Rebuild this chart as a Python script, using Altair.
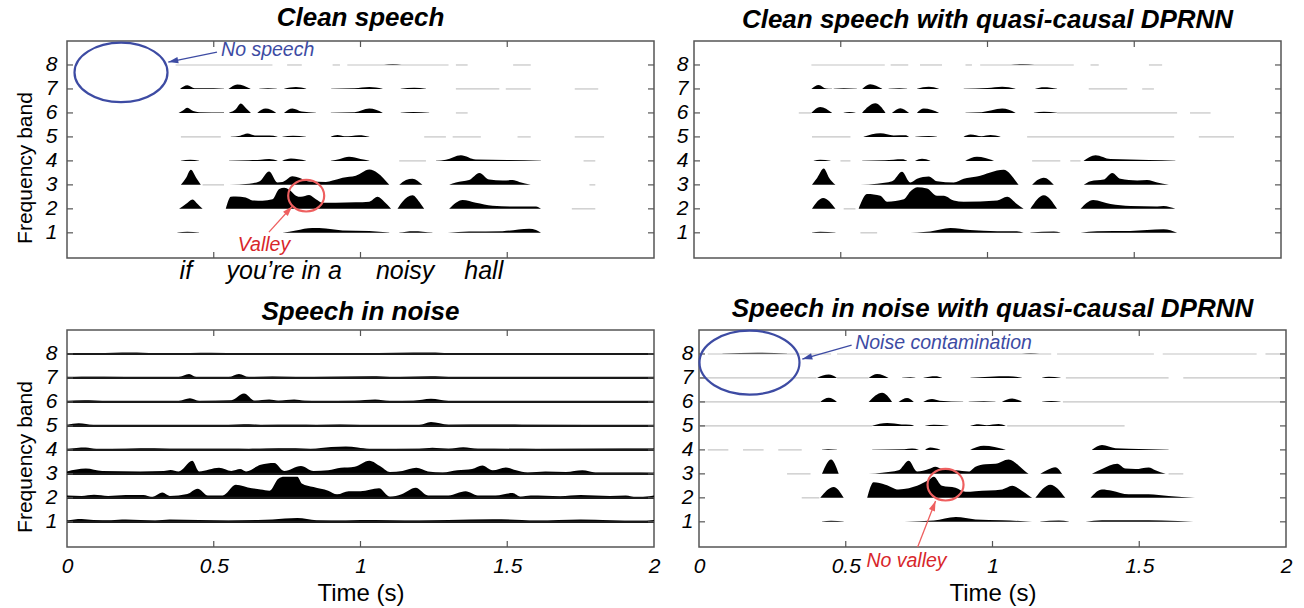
import math
import altair as alt
import pandas as pd

FONT = "Liberation Sans"
BANDS = [1, 2, 3, 4, 5, 6, 7, 8]
XTICKS = [0, 0.5, 1, 1.5, 2]
INNER_TICKS = [0.5, 1, 1.5]
TITLES = ["Clean speech", "Clean speech with quasi-causal DPRNN",
          "Speech in noise", "Speech in noise with quasi-causal DPRNN"]
WORDS = ["if", "you\u2019re in a", "noisy", "hall"]
WORD_T = [0.405, 0.74, 1.152, 1.42]

# ---------------- Clean speech (band -> list of segments of (time s, envelope height)) ----
CLEAN = {
    8: [[(1.08, 0.0), (1.11, 0.04), (1.14, 0.0)]],
    7: [[(0.385, 0), (0.41, 0.15), (0.435, 0.03), (0.50, 0.03), (0.535, 0.01)],
        [(0.55, 0), (0.58, 0.19), (0.625, 0.01)],
        [(0.655, 0.01), (0.685, 0.03), (0.715, 0.01)],
        [(0.74, 0.01), (0.78, 0.08), (0.815, 0.01)],
        [(0.90, 0.01), (0.98, 0.03), (1.03, 0.08), (1.075, 0.01)],
        [(1.137, 0.01), (1.183, 0.05), (1.223, 0.01)]],
    6: [[(0.38, 0), (0.395, 0.1), (0.41, 0.22), (0.43, 0.08), (0.45, 0.03), (0.535, 0.02)],
        [(0.552, 0.01), (0.575, 0.15), (0.592, 0.39), (0.61, 0.2), (0.626, 0.01)],
        [(0.649, 0.01), (0.677, 0.18), (0.712, 0.01)],
        [(0.74, 0.01), (0.768, 0.19), (0.80, 0.06), (0.848, 0.01)],
        [(0.899, 0.01), (0.98, 0.03), (1.03, 0.18), (1.075, 0.01)],
        [(1.137, 0.01), (1.18, 0.04), (1.234, 0.01)]],
    5: [[(0.558, 0.01), (0.59, 0.05), (0.615, 0.14), (0.64, 0.06), (0.69, 0.06), (0.717, 0.01)],
        [(0.734, 0.01), (0.77, 0.05), (0.814, 0.01)],
        [(0.899, 0.01), (0.922, 0.08), (0.945, 0.03), (0.97, 0.04), (0.995, 0.07), (1.03, 0.01)]],
    4: [[(0.388, 0.01), (0.42, 0.05), (0.45, 0.01)],
        [(0.552, 0.01), (0.62, 0.03), (0.66, 0.05), (0.689, 0.08), (0.717, 0.01)],
        [(0.734, 0.01), (0.763, 0.1), (0.814, 0.01)],
        [(0.899, 0.01), (0.93, 0.08), (0.961, 0.17), (1.0, 0.08), (1.03, 0.01)],
        [(1.257, 0.01), (1.291, 0.05), (1.342, 0.24), (1.393, 0.06), (1.50, 0.04), (1.615, 0.01)]],
    3: [[(0.388, 0), (0.406, 0.3), (0.422, 0.63), (0.44, 0.3), (0.456, 0)],
        [(0.552, 0), (0.621, 0.05), (0.655, 0.14), (0.689, 0.56), (0.717, 0.1), (0.734, 0.12),
         (0.768, 0.36), (0.791, 0.3), (0.825, 0.14), (0.882, 0.12), (0.905, 0.18), (0.939, 0.3),
         (0.984, 0.38), (1.03, 0.64), (1.058, 0.5), (1.098, 0)],
        [(1.132, 0), (1.155, 0.2), (1.177, 0.26), (1.211, 0)],
        [(1.302, 0), (1.325, 0.1), (1.37, 0.2), (1.405, 0.5), (1.439, 0.22), (1.484, 0.18),
         (1.518, 0.2), (1.541, 0.12), (1.58, 0)]],
    2: [[(0.382, 0), (0.405, 0.2), (0.428, 0.39), (0.445, 0.2), (0.462, 0)],
        [(0.541, 0), (0.558, 0.5), (0.575, 0.52), (0.609, 0.47), (0.632, 0.35), (0.666, 0.34),
         (0.70, 0.4), (0.723, 0.83), (0.74, 0.88), (0.757, 0.8), (0.78, 0.55), (0.797, 0.5),
         (0.825, 0.58), (0.848, 0.4), (0.871, 0.25), (0.916, 0.25), (0.984, 0.27), (1.03, 0.3),
         (1.058, 0.5), (1.081, 0.3), (1.104, 0)],
        [(1.126, 0), (1.143, 0.3), (1.177, 0.57), (1.20, 0.3), (1.217, 0)],
        [(1.302, 0), (1.348, 0.37), (1.393, 0.25), (1.45, 0.13), (1.518, 0.1), (1.598, 0.1), (1.615, 0)]],
    1: [[(0.376, 0.01), (0.41, 0.04), (0.45, 0.01)],
        [(0.734, 0), (0.78, 0.1), (0.836, 0.2), (0.882, 0.18), (0.939, 0.1), (1.03, 0.08), (1.098, 0.01)],
        [(1.132, 0.01), (1.18, 0.07), (1.245, 0.01)],
        [(1.297, 0), (1.37, 0.05), (1.484, 0.07), (1.575, 0.17), (1.598, 0.12), (1.615, 0)]],
}
CLEAN_FAINT = {
    8: [(0.37, 0.70), (0.75, 0.80), (0.905, 0.93), (0.955, 1.30), (1.325, 1.365), (1.52, 1.58)],
    7: [(1.325, 1.473), (1.495, 1.58), (1.73, 1.81)],
    6: [(1.325, 1.365)],
    5: [(0.388, 0.524), (1.217, 1.291), (1.314, 1.41), (1.535, 1.58), (1.73, 1.83)],
    4: [(1.132, 1.223), (1.76, 1.80)],
    3: [(0.462, 0.535), (1.78, 1.80)],
    2: [(1.72, 1.80)],
}

# ---------------- Clean speech with quasi-causal DPRNN ----------------
DP_CLEAN = {
    8: [[(1.08, 0.0), (1.12, 0.04), (1.16, 0.0)]],
    7: [[(0.40, 0), (0.425, 0.17), (0.45, 0.02), (0.47, 0.01)],
        [(0.476, 0.01), (0.51, 0.03), (0.555, 0.01)],
        [(0.573, 0), (0.60, 0.2), (0.641, 0.01)],
        [(0.663, 0.01), (0.70, 0.03), (0.726, 0.01)],
        [(0.76, 0.01), (0.80, 0.09), (0.834, 0.01)],
        [(0.919, 0.01), (1.0, 0.04), (1.05, 0.09), (1.095, 0.01)],
        [(1.163, 0.01), (1.192, 0.07), (1.237, 0.01)]],
    6: [[(0.40, 0.01), (0.43, 0.25), (0.47, 0.01)],
        [(0.51, 0.01), (0.53, 0.04), (0.55, 0.01)],
        [(0.573, 0.01), (0.618, 0.4), (0.652, 0.01)],
        [(0.675, 0.01), (0.703, 0.2), (0.732, 0.01)],
        [(0.76, 0.01), (0.783, 0.18), (0.834, 0.01)],
        [(0.925, 0.01), (0.98, 0.03), (1.05, 0.18), (1.095, 0.01)],
        [(1.158, 0.01), (1.192, 0.05), (1.237, 0.01)]],
    5: [[(0.578, 0.01), (0.635, 0.15), (0.68, 0.06), (0.72, 0.07), (0.732, 0.01)],
        [(0.754, 0.01), (0.80, 0.04), (0.828, 0.01)],
        [(0.919, 0.01), (0.942, 0.1), (0.98, 0.03), (1.01, 0.08), (1.044, 0.01)]],
    4: [[(0.408, 0.01), (0.43, 0.05), (0.465, 0.01)],
        [(0.573, 0.01), (0.65, 0.03), (0.709, 0.07), (0.726, 0.01)],
        [(0.754, 0.01), (0.777, 0.09), (0.805, 0.01)],
        [(0.925, 0.01), (0.964, 0.17), (1.021, 0.01)],
        [(1.328, 0.01), (1.368, 0.24), (1.419, 0.08), (1.55, 0.04), (1.64, 0.01)]],
    3: [[(0.402, 0), (0.42, 0.3), (0.442, 0.68), (0.46, 0.3), (0.482, 0)],
        [(0.567, 0), (0.624, 0.05), (0.675, 0.15), (0.709, 0.55), (0.737, 0.1), (0.76, 0.25),
         (0.80, 0.35), (0.828, 0.15), (0.885, 0.1), (0.919, 0.25), (0.964, 0.35), (1.055, 0.63),
         (1.1, 0.1), (1.106, 0)],
        [(1.152, 0), (1.17, 0.2), (1.192, 0.3), (1.226, 0)],
        [(1.328, 0), (1.351, 0.15), (1.396, 0.22), (1.425, 0.5), (1.453, 0.25), (1.51, 0.18),
         (1.544, 0.2), (1.578, 0.1), (1.618, 0)]],
    2: [[(0.402, 0), (0.44, 0.45), (0.482, 0)],
        [(0.561, 0), (0.59, 0.62), (0.635, 0.55), (0.658, 0.3), (0.715, 0.4), (0.737, 0.72),
         (0.76, 0.9), (0.794, 0.85), (0.828, 0.55), (0.851, 0.55), (0.885, 0.35), (0.919, 0.3),
         (1.033, 0.35), (1.067, 0.5), (1.1, 0.2), (1.123, 0)],
        [(1.146, 0), (1.192, 0.57), (1.237, 0)],
        [(1.317, 0), (1.36, 0.37), (1.419, 0.2), (1.487, 0.12), (1.578, 0.1), (1.60, 0.12), (1.64, 0)]],
    1: [[(0.402, 0.01), (0.43, 0.04), (0.482, 0.01)],
        [(0.715, 0), (0.805, 0.06), (0.874, 0.2), (0.94, 0.12), (1.033, 0.07), (1.1, 0.07), (1.123, 0)],
        [(1.146, 0.01), (1.226, 0.05), (1.248, 0.01)],
        [(1.317, 0), (1.373, 0.07), (1.487, 0.08), (1.60, 0.15), (1.646, 0)]],
}
DP_CLEAN_FAINT = {
    8: [(0.40, 0.65), (0.67, 0.73), (0.77, 0.845), (0.925, 0.947), (0.975, 1.294),
        (1.351, 1.379), (1.55, 1.595)],
    7: [(1.345, 1.476), (1.527, 1.567)],
    6: [(0.357, 0.40), (1.237, 1.646), (1.69, 1.76)],
    5: [(0.402, 0.533), (1.135, 1.636), (1.72, 1.84)],
    4: [(0.499, 0.533), (1.152, 1.248), (1.282, 1.317)],
    2: [(0.51, 0.55)],
    1: [(0.567, 0.624)],
}

# ---------------- Speech in noise ----------------
NOISY = {
    8: [[(0, 0.04), (0.1, 0.03), (0.217, 0.06), (0.3, 0.03), (0.42, 0.04), (0.49, 0.05), (0.6, 0.03),
         (0.8, 0.03), (0.9, 0.04), (1.0, 0.03), (1.12, 0.05), (1.24, 0.06), (1.3, 0.03), (1.5, 0.03),
         (1.75, 0.03), (1.9, 0.04), (2.0, 0.03)]],
    7: [[(0, 0.03), (0.05, 0.05), (0.2, 0.04), (0.38, 0.04), (0.416, 0.16), (0.44, 0.04), (0.55, 0.04),
         (0.586, 0.17), (0.62, 0.04), (0.7, 0.06), (0.78, 0.04), (0.9, 0.05), (1.04, 0.07), (1.1, 0.04),
         (1.17, 0.05), (1.24, 0.07), (1.3, 0.04), (1.6, 0.04), (2.0, 0.03)]],
    6: [[(0, 0.04), (0.06, 0.07), (0.12, 0.04), (0.38, 0.04), (0.419, 0.15), (0.45, 0.04), (0.56, 0.07),
         (0.603, 0.35), (0.64, 0.05), (0.689, 0.1), (0.72, 0.05), (0.774, 0.1), (0.81, 0.05),
         (0.86, 0.04), (0.98, 0.05), (1.05, 0.1), (1.1, 0.04), (1.18, 0.05), (1.24, 0.13), (1.3, 0.04),
         (2.0, 0.04)]],
    5: [[(0, 0.04), (0.04, 0.11), (0.09, 0.04), (0.3, 0.04), (0.55, 0.04), (0.62, 0.07), (0.66, 0.04),
         (0.78, 0.05), (0.85, 0.04), (0.93, 0.06), (1.0, 0.04), (1.2, 0.04), (1.24, 0.16), (1.3, 0.05),
         (1.45, 0.06), (1.55, 0.05), (2.0, 0.04)]],
    4: [[(0, 0.04), (0.064, 0.1), (0.1, 0.04), (0.2, 0.05), (0.251, 0.07), (0.297, 0.07), (0.35, 0.05),
         (0.45, 0.05), (0.55, 0.05), (0.62, 0.04), (0.68, 0.06), (0.762, 0.07), (0.83, 0.04),
         (0.9, 0.12), (0.95, 0.14), (0.99, 0.1), (1.03, 0.04), (1.2, 0.05), (1.245, 0.09), (1.3, 0.05),
         (1.35, 0.11), (1.4, 0.05), (1.6, 0.04), (1.9, 0.06), (2.0, 0.06)]],
    3: [[(0, 0.1), (0.064, 0.22), (0.12, 0.12), (0.25, 0.1), (0.33, 0.12), (0.353, 0.16), (0.38, 0.1),
         (0.427, 0.55), (0.45, 0.1), (0.518, 0.25), (0.56, 0.12), (0.59, 0.2), (0.61, 0.1),
         (0.66, 0.38), (0.706, 0.45), (0.74, 0.12), (0.797, 0.33), (0.84, 0.12), (0.89, 0.15),
         (0.933, 0.25), (0.98, 0.3), (1.03, 0.55), (1.07, 0.3), (1.1, 0.08), (1.143, 0.12),
         (1.19, 0.25), (1.23, 0.1), (1.28, 0.06), (1.33, 0.15), (1.38, 0.2), (1.415, 0.35),
         (1.45, 0.15), (1.495, 0.27), (1.53, 0.15), (1.57, 0.06), (1.63, 0.1), (1.7, 0.08),
         (1.756, 0.15), (1.8, 0.06), (1.9, 0.06), (2.0, 0.05)]],
    2: [[(0, 0.1), (0.05, 0.08), (0.092, 0.13), (0.14, 0.08), (0.2, 0.12), (0.26, 0.12), (0.29, 0.03),
         (0.325, 0.22), (0.35, 0.08), (0.41, 0.16), (0.445, 0.38), (0.48, 0.1), (0.53, 0.1),
         (0.575, 0.55), (0.63, 0.4), (0.66, 0.35), (0.69, 0.3), (0.72, 0.8), (0.74, 0.88),
         (0.785, 0.88), (0.80, 0.6), (0.84, 0.45), (0.89, 0.3), (0.92, 0.15), (0.96, 0.28),
         (1.0, 0.28), (1.063, 0.4), (1.10, 0.05), (1.14, 0.15), (1.188, 0.42), (1.23, 0.1),
         (1.3, 0.1), (1.358, 0.27), (1.40, 0.1), (1.46, 0.1), (1.518, 0.2), (1.545, 0.05),
         (1.58, 0.1), (1.68, 0.07), (1.75, 0.12), (1.85, 0.08), (1.904, 0.1), (1.94, 0.02), (2.0, 0.1)]],
    1: [[(0, 0.06), (0.05, 0.12), (0.09, 0.08), (0.15, 0.07), (0.2, 0.1), (0.3, 0.06), (0.35, 0.1),
         (0.45, 0.08), (0.55, 0.06), (0.65, 0.08), (0.7, 0.1), (0.785, 0.16), (0.85, 0.07),
         (0.95, 0.06), (1.0, 0.08), (1.1, 0.07), (1.2, 0.06), (1.3, 0.08), (1.45, 0.11), (1.55, 0.08),
         (1.6, 0.05), (1.75, 0.1), (1.85, 0.07), (1.95, 0.04), (2.0, 0.08)]],
}

# ---------------- Speech in noise with quasi-causal DPRNN ----------------
DP_NOISY = {
    8: [[(0.08, 0.01), (0.2, 0.05), (0.3, 0.01)], [(1.1, 0.0), (1.13, 0.03), (1.16, 0.0)]],
    7: [[(0.402, 0), (0.442, 0.14), (0.47, 0)],
        [(0.578, 0), (0.607, 0.17), (0.646, 0)],
        [(0.692, 0.01), (0.72, 0.03), (0.737, 0.01)],
        [(0.765, 0.01), (0.805, 0.07), (0.828, 0.01)],
        [(0.925, 0.01), (1.055, 0.07), (1.1, 0.01)],
        [(1.169, 0.01), (1.192, 0.05), (1.232, 0.01)]],
    6: [[(0.413, 0), (0.442, 0.17), (0.47, 0)],
        [(0.578, 0), (0.624, 0.38), (0.658, 0)],
        [(0.68, 0), (0.709, 0.16), (0.732, 0)],
        [(0.765, 0.01), (0.794, 0.12), (0.82, 0.05), (0.90, 0.01)],
        [(0.919, 0.01), (0.97, 0.03), (1.01, 0.01)],
        [(1.033, 0.01), (1.067, 0.14), (1.1, 0.01)],
        [(1.169, 0.01), (1.2, 0.04), (1.232, 0.01)]],
    5: [[(0.59, 0.01), (0.641, 0.12), (0.69, 0.06), (0.72, 0.05), (0.732, 0.01)],
        [(0.771, 0.01), (0.80, 0.05), (0.85, 0.01)],
        [(0.925, 0.01), (0.953, 0.07), (0.98, 0.03), (1.021, 0.08), (1.044, 0.01)]],
    4: [[(0.419, 0.01), (0.44, 0.03), (0.47, 0.01)],
        [(0.59, 0.01), (0.70, 0.03), (0.726, 0.06), (0.748, 0.01)],
        [(0.771, 0.01), (0.788, 0.1), (0.822, 0.01)],
        [(0.925, 0.01), (0.97, 0.17), (1.044, 0.01)],
        [(1.339, 0.01), (1.373, 0.2), (1.419, 0.07), (1.465, 0.05), (1.6, 0.01)]],
    3: [[(0.419, 0), (0.45, 0.6), (0.476, 0)],
        [(0.578, 0), (0.624, 0.05), (0.68, 0.15), (0.715, 0.55), (0.743, 0.1), (0.783, 0.2),
         (0.805, 0.3), (0.828, 0.2), (0.874, 0.15), (0.919, 0.1), (0.942, 0.3), (0.976, 0.4),
         (1.01, 0.42), (1.055, 0.6), (1.089, 0.35), (1.112, 0.1), (1.123, 0)],
        [(1.163, 0), (1.19, 0.18), (1.214, 0.28), (1.237, 0)],
        [(1.339, 0), (1.373, 0.2), (1.425, 0.42), (1.453, 0.22), (1.487, 0.2), (1.532, 0.27),
         (1.555, 0.15), (1.59, 0)]],
    2: [[(0.413, 0), (0.459, 0.45), (0.493, 0)],
        [(0.573, 0), (0.595, 0.65), (0.635, 0.55), (0.68, 0.35), (0.715, 0.4), (0.743, 0.5),
         (0.783, 0.75), (0.80, 0.88), (0.828, 0.5), (0.874, 0.42), (0.908, 0.25), (0.942, 0.28),
         (1.033, 0.35), (1.067, 0.5), (1.1, 0.3), (1.123, 0.1), (1.135, 0)],
        [(1.146, 0), (1.197, 0.55), (1.248, 0)],
        [(1.334, 0), (1.373, 0.35), (1.407, 0.3), (1.464, 0.15), (1.532, 0.15), (1.6, 0.08), (1.69, 0)]],
    1: [[(0.419, 0.01), (0.45, 0.04), (0.493, 0.01)],
        [(0.70, 0), (0.80, 0.05), (0.875, 0.2), (0.942, 0.1), (1.033, 0.07), (1.135, 0)],
        [(1.163, 0.01), (1.226, 0.05), (1.26, 0.01)],
        [(1.317, 0), (1.373, 0.07), (1.487, 0.07), (1.578, 0.06), (1.685, 0)]],
}
DP_NOISY_FAINT = {
    8: [(0.03, 0.45), (0.47, 1.2), (1.22, 1.55), (1.58, 1.9), (1.93, 2.0)],
    7: [(0.0, 0.40), (0.47, 0.578), (1.25, 1.60), (1.65, 2.0)],
    6: [(0.0, 0.413), (1.24, 2.0)],
    5: [(0.0, 0.59), (1.05, 1.45)],
    4: [(0.03, 0.10), (0.15, 0.22), (0.27, 0.35)],
    3: [(0.30, 0.38), (1.6, 1.65)],
    2: [(0.35, 0.41)],
}

# annotation positions (time s, band units)
TL_ELLIPSE = (0.184, 7.69)
TL_ARROW = (0.511, 8.54, 0.345, 8.12)
TL_TEXT = (0.525, 8.62, "No speech")
TL_CIRCLE = (0.815, 2.55)
TL_RARROW = (0.688, 1.03, 0.767, 2.1)
TL_RTEXT = (0.671, 0.5, "Valley")
BR_ELLIPSE = (0.172, 7.64)
BR_ARROW = (0.52, 8.37, 0.352, 7.79)
BR_TEXT = (0.532, 8.44, "Noise contamination")
BR_CIRCLE = (0.84, 2.55)
BR_RARROW = (0.745, -0.05, 0.806, 1.87)
BR_RTEXT = (0.707, -0.63, "No valley")

# ---------------- style ----------------
W, H = 587, 217
YDOM = [-0.05, 9.0]
PX_T = W / 2.0
PX_V = H / (YDOM[1] - YDOM[0])
BLUE = "#3d4ba3"
RED_LINE = "#ee5f5f"
RED_TEXT = "#d8262a"
FRAME = "#555555"
FAINT = "#c4c4c4"
TITLE_SIZE = 26
LABEL_SIZE = 21
YTITLE_SIZE = 21
XTITLE_SIZE = 24
ANNOT_SIZE = 19.5
WORD_SIZE = 25


def ellipse_path(ratio):
    k = 0.5523
    r = ratio
    return (f"M 1 0 C 1 {k*r:.4f} {k:.4f} {r:.4f} 0 {r:.4f} "
            f"C {-k:.4f} {r:.4f} -1 {k*r:.4f} -1 0 "
            f"C -1 {-k*r:.4f} {-k:.4f} {-r:.4f} 0 {-r:.4f} "
            f"C {k:.4f} {-r:.4f} 1 {-k*r:.4f} 1 0 Z")


HEAD = "M 0 0 L -0.32 1 L 0.32 1 Z"

xs = alt.Scale(domain=[0, 2], nice=False, zero=False)
ys = alt.Scale(domain=YDOM, nice=False, zero=False)


def make_axes(bottom, left):
    if bottom:
        xaxis = alt.Axis(values=XTICKS, format="~g", title="Time (s)", ticks=False,
                         tickSize=0, domain=False, grid=False, labelPadding=8,
                         titlePadding=5, labelFlush=False, titleFontSize=XTITLE_SIZE)
    else:
        xaxis = None
    yaxis = alt.Axis(values=BANDS, title="Frequency band" if left else None, ticks=False,
                     tickSize=0, domain=False, grid=False,
                     labelPadding=10 if left else 6, titlePadding=10,
                     titleY=H / 2 + 18, titleFontSize=YTITLE_SIZE)
    return xaxis, yaxis


def area_df(areas):
    rows = []
    for band, segs in areas.items():
        for k, seg in enumerate(segs):
            for t, h in seg:
                rows.append({"band": band, "seg": f"{band}-{k}", "t": t,
                             "top": band + h, "base": band})
    return pd.DataFrame(rows)


def faint_df(faint):
    rows = []
    for band, segs in faint.items():
        for t0, t1 in segs:
            rows.append({"band": band, "t0": t0, "t1": t1})
    return pd.DataFrame(rows)


def annot(ax, ell, arrow, text, circ, rarrow, rtext, ell_w):
    xa, ya = ax
    layers = []
    ell_df = pd.DataFrame([{"t": ell[0], "v": ell[1]}])
    layers.append(alt.Chart(ell_df).mark_point(
        shape=ellipse_path(0.64), size=ell_w ** 2, filled=False, color=BLUE,
        strokeWidth=2.2, opacity=1).encode(
        x=alt.X("t:Q", scale=xs, axis=xa), y=alt.Y("v:Q", scale=ys, axis=ya)))
    circ_df = pd.DataFrame([{"t": circ[0], "v": circ[1]}])
    layers.append(alt.Chart(circ_df).mark_point(
        shape=ellipse_path(0.88), size=36 ** 2, filled=False, color=RED_LINE,
        strokeWidth=2.2, opacity=1).encode(
        x=alt.X("t:Q", scale=xs, axis=xa), y=alt.Y("v:Q", scale=ys, axis=ya)))
    for arr, col in ((arrow, BLUE), (rarrow, RED_LINE)):
        a_df = pd.DataFrame([{"t1": arr[0], "v1": arr[1], "t2": arr[2], "v2": arr[3]}])
        dx = (arr[2] - arr[0]) * PX_T
        dy = -(arr[3] - arr[1]) * PX_V
        ang = math.degrees(math.atan2(dx, -dy)) % 360
        layers.append(alt.Chart(a_df).mark_rule(color=col, strokeWidth=1.3).encode(
            x=alt.X("t1:Q", scale=xs, axis=xa), y=alt.Y("v1:Q", scale=ys, axis=ya),
            x2="t2:Q", y2="v2:Q"))
        layers.append(alt.Chart(a_df).mark_point(
            shape=HEAD, size=400, filled=True, color=col, opacity=1, angle=ang).encode(
            x=alt.X("t2:Q", scale=xs, axis=xa), y=alt.Y("v2:Q", scale=ys, axis=ya)))
    for tx, col, al in ((text, BLUE, "left"), (rtext, RED_TEXT, "center")):
        t_df = pd.DataFrame([{"t": tx[0], "v": tx[1], "label": tx[2]}])
        layers.append(alt.Chart(t_df).mark_text(
            font=FONT, fontSize=ANNOT_SIZE, fontStyle="italic", color=col, align=al,
            baseline="middle").encode(
            x=alt.X("t:Q", scale=xs, axis=xa), y=alt.Y("v:Q", scale=ys, axis=ya),
            text="label:N"))
    return layers


def panel(areas, faint, title, bottom, left, extra=None, strong=False):
    xaxis, yaxis = make_axes(bottom, left)
    X = lambda f: alt.X(f, scale=xs, axis=xaxis)
    Y = lambda f: alt.Y(f, scale=ys, axis=yaxis)
    layers = [alt.Chart(area_df(areas)).mark_area(
        color="black", interpolate="monotone", opacity=1).encode(
        x=X("t:Q"), y=Y("top:Q"), y2="base:Q", detail="seg:N")]
    bdf = pd.DataFrame({"band": BANDS})
    if strong:
        layers.append(alt.Chart(bdf).mark_rule(color="#1a1a1a", strokeWidth=2.2).encode(
            x=alt.value(0), x2=alt.value(W), y=Y("band:Q")))
    fdf = faint_df(faint)
    if len(fdf):
        layers.append(alt.Chart(fdf).mark_rule(color=FAINT, strokeWidth=1.2).encode(
            x=X("t0:Q"), x2="t1:Q", y=Y("band:Q")))
    tdf = pd.DataFrame({"t": INNER_TICKS})
    layers.append(alt.Chart(tdf).mark_rule(color=FRAME, strokeWidth=1.2).encode(
        x=X("t:Q"), y=alt.value(0), y2=alt.value(6)))
    layers.append(alt.Chart(tdf).mark_rule(color=FRAME, strokeWidth=1.2).encode(
        x=X("t:Q"), y=alt.value(H - 6), y2=alt.value(H)))
    layers.append(alt.Chart(bdf).mark_rule(color=FRAME, strokeWidth=1.2).encode(
        x=alt.value(0), x2=alt.value(6), y=Y("band:Q")))
    layers.append(alt.Chart(bdf).mark_rule(color=FRAME, strokeWidth=1.2).encode(
        x=alt.value(W - 6), x2=alt.value(W), y=Y("band:Q")))
    if extra is not None:
        layers.extend(extra((xaxis, yaxis)))
    return alt.layer(*layers).properties(
        width=W, height=H,
        title=alt.TitleParams(text=title, font=FONT, fontSize=TITLE_SIZE, fontWeight="bold",
                              fontStyle="italic", color="black", anchor="middle",
                              offset=4 if bottom else 7))


def tl_extra(ax):
    words_df = pd.DataFrame({"t": WORD_T, "v": [-0.6] * len(WORDS), "w": WORDS})
    words = alt.Chart(words_df).mark_text(
        font=FONT, fontSize=WORD_SIZE, fontStyle="italic", color="black",
        baseline="middle").encode(
        x=alt.X("t:Q", scale=xs, axis=ax[0]), y=alt.Y("v:Q", scale=ys, axis=ax[1]), text="w:N")
    return annot(ax, TL_ELLIPSE, TL_ARROW, TL_TEXT, TL_CIRCLE, TL_RARROW, TL_RTEXT, 93) + [words]


def br_extra(ax):
    return annot(ax, BR_ELLIPSE, BR_ARROW, BR_TEXT, BR_CIRCLE, BR_RARROW, BR_RTEXT, 100)


tl = panel(CLEAN, CLEAN_FAINT, TITLES[0], False, True, extra=tl_extra)
tr = panel(DP_CLEAN, DP_CLEAN_FAINT, TITLES[1], False, False)
bl = panel(NOISY, {}, TITLES[2], True, True, strong=True)
br = panel(DP_NOISY, DP_NOISY_FAINT, TITLES[3], True, False, extra=br_extra)

chart = alt.vconcat(
    alt.hconcat(tl, tr, spacing=19),
    alt.hconcat(bl, br, spacing=19),
    spacing=10,
).properties(
    padding={"left": 13, "top": 4, "right": 5, "bottom": 2},
    background="white",
).configure_view(
    stroke=FRAME, strokeWidth=1.5
).configure_axis(
    labelFont=FONT, titleFont=FONT, labelFontSize=LABEL_SIZE, labelFontStyle="italic",
    labelColor="black", titleFontWeight="normal", titleColor="black"
)

chart.save("out.html", embed_options={"renderer": "svg", "actions": False})
